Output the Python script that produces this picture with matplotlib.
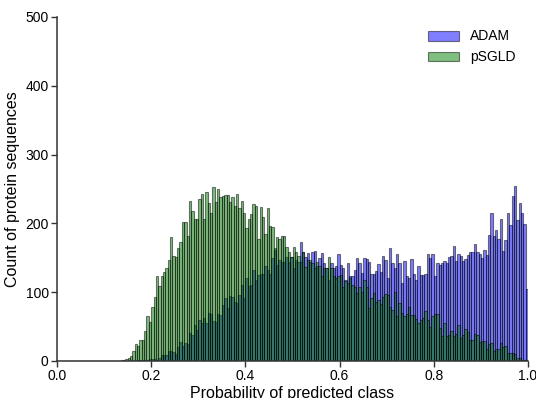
import numpy as np
import matplotlib.pyplot as plt

# 200 bins over [0, 1]
n_bins = 200
edges = np.linspace(0.0, 1.0, n_bins + 1)
centers = 0.5 * (edges[:-1] + edges[1:])

# counts per bin, ADAM
adam_counts = [0] * 34 + [
    1, 1, 1, 2, 2, 3, 3, 3, 2, 5,
    8, 9, 8, 15, 15, 13, 10, 20, 28, 22,
    26, 25, 40, 38, 52, 45, 59, 55, 62, 55,
    70, 68, 58,
    57, 68, 67, 81, 91, 77, 94, 93, 86, 84,
    96, 111, 91, 120, 109, 111, 132, 118, 125, 127,
    127, 138, 132, 127, 149, 161, 139, 147, 144, 144,
    151, 144, 151, 135, 147, 144, 173, 159, 151, 157,
    144, 159, 160, 138, 150,
    157, 142, 135, 118, 143, 135, 138, 156, 140, 135,
    118, 143, 123, 124, 132, 149, 143, 128, 149, 148,
    144, 127, 127, 131, 141, 130, 152, 147, 120, 164,
    143, 135, 156, 142, 113, 146, 123, 120, 148, 126,
    118, 138, 125, 125,
    126, 156, 149, 156, 123, 143, 140, 142, 146, 142,
    151, 153, 167, 146, 156, 152, 146, 148, 154, 158,
    159, 170, 158, 156, 149, 161, 154, 183, 215, 182,
    190, 178, 207, 160, 176, 215, 197, 240, 255, 205,
    230, 215, 199, 105,
]

# counts per bin, pSGLD
psgld_counts = [0] * 27 + [
    1, 1, 3, 5, 7, 15, 24, 22, 30, 30,
    44, 66, 56, 79, 93, 124, 109, 123, 129, 135,
    147, 180, 153, 151, 164, 173, 202, 202, 181, 233,
    218, 206, 206, 236, 243, 207, 246, 230, 215, 253,
    231, 250, 239, 240, 241, 241, 231, 238, 225, 243,
    222, 233, 215, 193, 206, 214, 228, 225, 178, 224,
    209, 185, 223, 196, 195, 164, 180, 177, 181, 181,
    166, 159, 151, 166, 158, 152, 144, 159, 137, 147,
    147, 142, 135, 144, 138,
    124, 135, 135, 151, 135, 123, 120, 123, 125, 107,
    116, 114, 120, 110, 107, 99, 107, 101, 118, 108,
    77, 91, 99, 86, 89, 83, 93, 98, 96, 79,
    74, 101, 65, 84, 70, 65, 69, 78, 67, 67,
    61, 55, 60, 63,
    72, 60, 50, 65, 68, 68, 48, 36, 55, 36,
    38, 44, 36, 39, 52, 33, 38, 46, 42, 30,
    30, 39, 38, 27, 29, 29, 17, 25, 26, 15,
    18, 18, 26, 21, 22, 12, 12, 11, 10, 5,
    4, 1, 1, 1,
]

labels = ['ADAM', 'pSGLD']
colors = ['blue', 'green']

plt.rcParams['font.family'] = ['Liberation Sans', 'DejaVu Sans']

fig = plt.figure(figsize=(5.36, 3.98), dpi=100)
ax = fig.add_axes([57 / 536, 1 - 361 / 398, 471 / 536, 344 / 398])

for counts, lab, col in zip([adam_counts, psgld_counts], labels, colors):
    ax.hist(centers, bins=edges, weights=counts, color=col, alpha=0.5,
            edgecolor='black', linewidth=0.8, label=lab)

ax.set_xlim(0.0, 1.0)
ax.set_ylim(0, 500)
ax.set_xticks([0.0, 0.2, 0.4, 0.6, 0.8, 1.0])
ax.set_yticks([0, 100, 200, 300, 400, 500])
ax.set_xlabel('Probability of predicted class', fontsize=11.5, labelpad=2)
ax.set_ylabel('Count of protein sequences', fontsize=11.5, labelpad=4)
ax.tick_params(axis='both', direction='out', length=4, width=1,
               color='#333333', labelsize=10, pad=2)

for side in ['top', 'right']:
    ax.spines[side].set_visible(False)
for side in ['left', 'bottom']:
    ax.spines[side].set_color('#333333')
    ax.spines[side].set_linewidth(1.1)

ax.legend(loc='upper right', frameon=False, fontsize=10,
          bbox_to_anchor=(1.0, 1.0), handlelength=2.2)

plt.savefig('out.png', dpi=100)
plt.close()
